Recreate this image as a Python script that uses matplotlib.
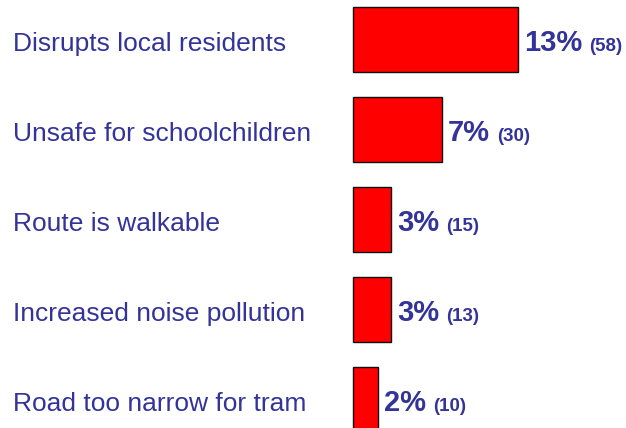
import matplotlib
matplotlib.use("Agg")
import matplotlib.pyplot as plt
from matplotlib.transforms import blended_transform_factory, offset_copy

categories = ["Disrupts local residents", "Unsafe for schoolchildren",
              "Route is walkable", "Increased noise pollution",
              "Road too narrow for tram"]
percents = [13, 7, 3, 3, 2]
counts = [58, 30, 15, 13, 10]

W, H = 626, 428
DPI = 100
text_color = "#333399"
plt.rcParams["font.family"] = ["Liberation Sans", "DejaVu Sans"]

fig = plt.figure(figsize=(W / DPI, H / DPI), dpi=DPI)
# axes: bars start at x=353px, 12.7 px per percent
px_per_unit = 12.7
xmax = 20
ax = fig.add_axes([353 / W, 0, xmax * px_per_unit / W, 1])
ax.set_xlim(0, xmax)
pitch = 90.0
top_c = 39.5
ax.set_ylim((H - top_c) / pitch, -top_c / pitch)
ax.axis("off")

ys = list(range(len(categories)))
ax.barh(ys, percents, height=65 / pitch, left=0, color="#ff0000",
        edgecolor="#111111", linewidth=1.0, clip_on=False)

base_off = 11.8 / pitch
trans_lab = blended_transform_factory(fig.transFigure, ax.transData)
fig.canvas.draw()
renderer = fig.canvas.get_renderer()
for y, cat, p, n in zip(ys, categories, percents, counts):
    ax.text(13 / W, y + base_off, cat, transform=trans_lab, ha="left",
            va="baseline", fontsize=19, color=text_color)
    t = ax.text(p, y + base_off, f"{p}%",
                transform=offset_copy(ax.transData, fig=fig, x=6, y=0, units="dots"),
                ha="left", va="baseline", fontsize=21, fontweight="bold",
                color=text_color)
    bb = t.get_window_extent(renderer=renderer)
    ax.text(0, y + base_off, f"({n})",
            transform=blended_transform_factory(
                offset_copy(fig.transFigure, fig=fig, x=bb.x1 + 7, y=0, units="dots"),
                ax.transData),
            ha="left", va="baseline", fontsize=13.5, fontweight="bold",
            color=text_color)

fig.savefig("out.png", dpi=DPI)
